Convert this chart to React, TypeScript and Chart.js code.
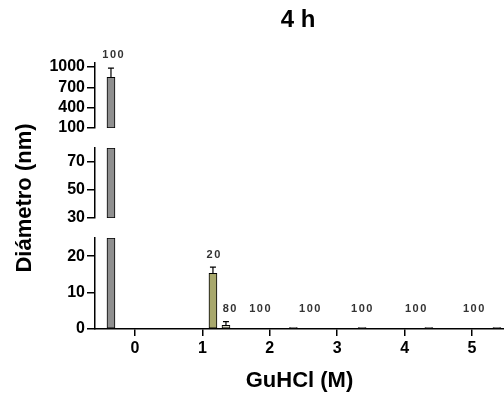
import React, { useEffect, useRef } from 'react';
import { Chart, registerables } from 'chart.js';

Chart.register(...registerables);

const titleText = '4 h';
const xAxisTitle = 'GuHCl (M)';
const yAxisTitle = 'Diámetro (nm)';

// bars: GuHCl position (M), mean diameter (nm), error (nm)
const barX = [-0.356, 1.157, 1.35, 2.35, 3.37, 4.36, 5.37];
const barDiameter = [850, 15.3, 1.0, 0.4, 0.4, 0.4, 0.4];
const barError = [135, 1.7, 1.0, 0, 0, 0, 0];
const barColor = ['#8f8f8f', '#a8a86c', '#d6d6c2', '#222222', '#222222', '#222222', '#222222'];

// percentage labels above bars
const pctLabelText = ['100', '20', '80', '100', '100', '100', '100', '100'];
const pctLabelX = [-0.33, 1.16, 1.4, 1.85, 2.59, 3.36, 4.16, 5.02];
const pctLabelY = [1180, 20.3, 5.4, 5.4, 5.4, 5.4, 5.4, 5.4];

const xTicks = [0, 1, 2, 3, 4, 5];
const yBotTicks = [0, 10, 20];
const yMidTicks = [30, 50, 70];
const yTopTicks = [100, 400, 700, 1000];

const segBot = [0, 25];
const segMid = [30, 80];
const segTop = [100, 1060];

const FONT = "'Liberation Sans', Arial, Helvetica, sans-serif";

function axisFor(v: number) {
  if (v <= segBot[1]) return 'yBot';
  if (v <= segMid[1]) return 'yMid';
  return 'yTop';
}

const overlayPlugin = {
  id: 'overlay',
  afterDatasetsDraw(chart: any) {
    const ctx = chart.ctx;
    const xs = chart.scales.x;
    ctx.save();
    // error bars
    ctx.strokeStyle = '#000';
    ctx.lineWidth = 1.2;
    barX.forEach((x, i) => {
      const e = barError[i];
      if (!e) return;
      const v = barDiameter[i];
      const px = xs.getPixelForValue(x);
      const y0 = chart.scales[axisFor(v)].getPixelForValue(v);
      const y1 = chart.scales[axisFor(v + e)].getPixelForValue(v + e);
      ctx.beginPath();
      ctx.moveTo(px, y0);
      ctx.lineTo(px, y1);
      ctx.moveTo(px - 3, y1);
      ctx.lineTo(px + 3, y1);
      ctx.stroke();
    });
    // percentage labels
    ctx.fillStyle = '#333';
    ctx.font = `bold 11px ${FONT}`;
    ctx.textAlign = 'center';
    ctx.textBaseline = 'middle';
    try { (ctx as any).letterSpacing = '1.5px'; } catch (e) {}
    pctLabelText.forEach((t, i) => {
      const v = pctLabelY[i];
      const px = xs.getPixelForValue(pctLabelX[i]);
      const py = chart.scales[axisFor(v)].getPixelForValue(v);
      ctx.fillText(t, px + 1, py);
    });
    ctx.restore();
  },
  afterDraw(chart: any) {
    const ctx = chart.ctx;
    ctx.save();
    ctx.fillStyle = '#000';
    ctx.textAlign = 'center';
    ctx.textBaseline = 'middle';
    ctx.font = `bold 24px ${FONT}`;
    ctx.fillText(titleText, 298, 20);
    ctx.translate(25, 198);
    ctx.rotate(-Math.PI / 2);
    ctx.font = `bold 22px ${FONT}`;
    ctx.fillText(yAxisTitle, 0, 0);
    ctx.restore();
  },
};

function yAxis(range: number[], ticks: number[], weight: number, stackWeight: number) {
  return {
    type: 'linear',
    position: 'left',
    stack: 'y',
    stackWeight,
    weight,
    min: range[0],
    max: range[1],
    afterBuildTicks: (axis: any) => {
      axis.ticks = ticks.map((value) => ({ value }));
    },
    afterFit: (axis: any) => {
      axis.width = 95;
    },
    grid: { drawOnChartArea: false, drawTicks: true, tickLength: 8, color: '#000', lineWidth: 1.5 },
    border: { display: true, color: '#000', width: 1.5 },
    ticks: {
      autoSkip: false,
      padding: 2,
      color: '#000',
      font: { family: FONT, size: 16, weight: 'bold' },
      callback: (v: any) => String(v),
    },
  };
}

function gapAxis(weight: number, stackWeight: number) {
  return {
    type: 'linear',
    position: 'left',
    stack: 'y',
    stackWeight,
    weight,
    min: 0,
    max: 1,
    display: false,
  };
}

export default function App() {
  const ref = useRef<HTMLCanvasElement | null>(null);
  useEffect(() => {
    if (!ref.current) return;
    const common = {
      barThickness: 8,
      grouped: false,
      borderColor: '#000',
      borderWidth: 1,
      borderSkipped: false,
      backgroundColor: barColor,
      xAxisID: 'x',
    };
    const chart = new Chart(ref.current, {
      type: 'bar',
      data: {
        datasets: [
          {
            ...common,
            yAxisID: 'yBot',
            data: barX.map((x, i) => ({ x, y: Math.min(barDiameter[i], segBot[1]) })),
          },
          {
            ...common,
            yAxisID: 'yMid',
            data: barX.map((x, i) => ({
              x,
              y: barDiameter[i] > segMid[0] ? [segMid[0], Math.min(barDiameter[i], segMid[1])] : null,
            })),
          },
          {
            ...common,
            yAxisID: 'yTop',
            data: barX.map((x, i) => ({
              x,
              y: barDiameter[i] > segTop[0] ? [segTop[0], Math.min(barDiameter[i], segTop[1])] : null,
            })),
          },
        ] as any,
      },
      options: {
        responsive: false,
        animation: false,
        layout: { padding: { top: 63, left: 0, right: 0, bottom: 0 } },
        plugins: { legend: { display: false }, tooltip: { enabled: false } },
        scales: {
          x: {
            type: 'linear',
            position: 'bottom',
            offset: false,
            min: -0.593,
            max: 5.475,
            afterBuildTicks: (axis: any) => {
              axis.ticks = xTicks.map((value) => ({ value }));
            },
            afterFit: (axis: any) => {
              axis.height = 64;
            },
            grid: { offset: false, drawOnChartArea: false, drawTicks: true, tickLength: 7, color: '#000', lineWidth: 1.5 },
            border: { display: true, color: '#000', width: 1.5 },
            ticks: {
              autoSkip: false,
              padding: 3,
              color: '#000',
              maxRotation: 0,
              font: { family: FONT, size: 16, weight: 'bold' },
              callback: (v: any) => String(v),
            },
            title: {
              display: true,
              text: xAxisTitle,
              color: '#000',
              font: { family: FONT, size: 22, weight: 'bold', lineHeight: 1 },
              padding: { top: 0, bottom: 1 },
            },
          },
          yBot: yAxis(segBot, yBotTicks, 1, 91),
          gapA: gapAxis(2, 20),
          yMid: yAxis(segMid, yMidTicks, 3, 70),
          gapB: gapAxis(4, 20),
          yTop: yAxis(segTop, yTopTicks, 5, 65),
        } as any,
      },
      plugins: [overlayPlugin],
    });
    return () => chart.destroy();
  }, []);
  return (
    <div style={{ position: 'absolute', left: 0, top: 0, width: 504, height: 393, background: '#fff' }}>
      <canvas ref={ref} width={504} height={393} style={{ display: 'block' }} />
    </div>
  );
}
